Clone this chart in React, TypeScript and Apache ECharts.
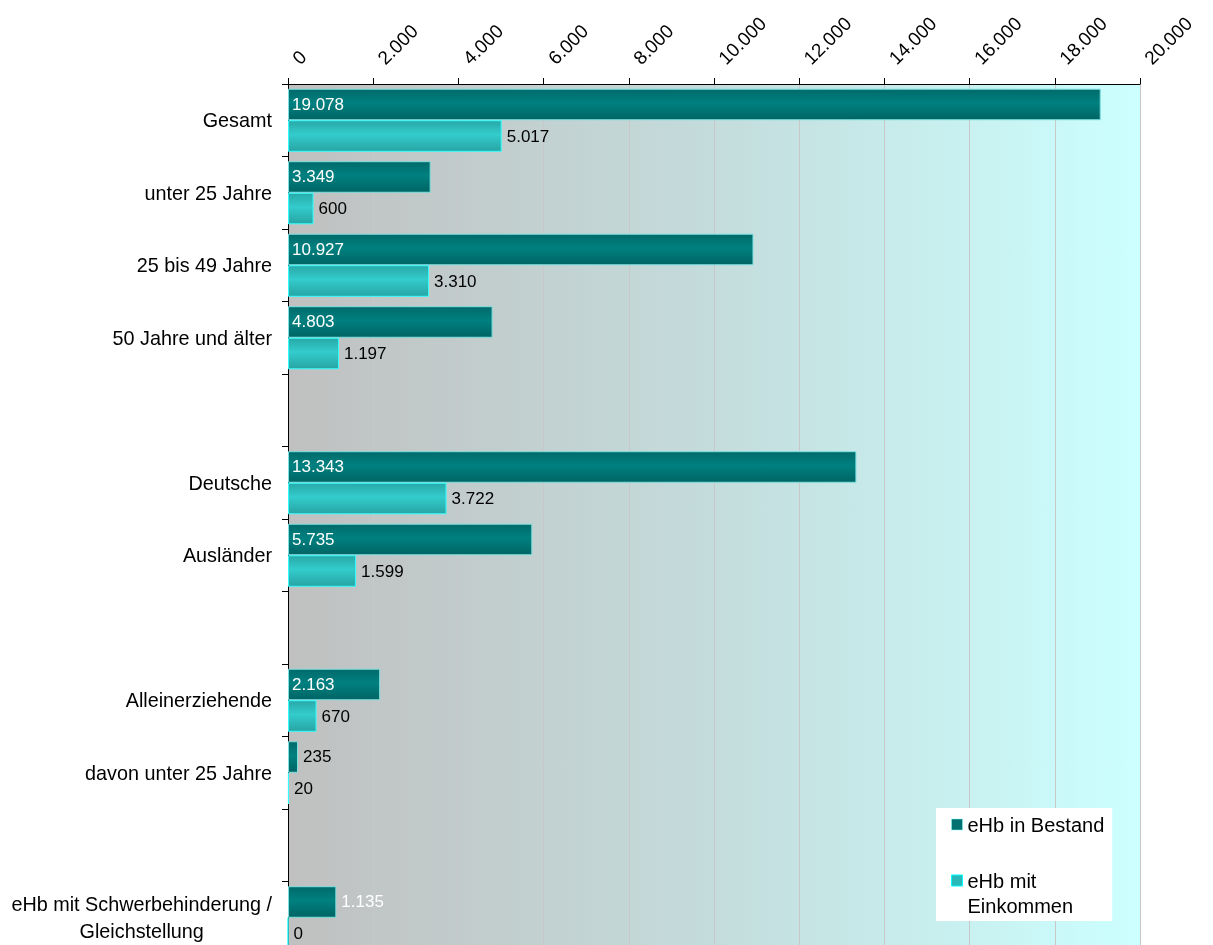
import React, { useEffect, useRef } from "react";
import * as echarts from "echarts";

const categories = [
  "Gesamt",
  "unter 25 Jahre",
  "25 bis 49 Jahre",
  "50 Jahre und älter",
  " ",
  "Deutsche",
  "Ausländer",
  "  ",
  "Alleinerziehende",
  "davon unter 25 Jahre",
  "   ",
  "eHb mit Schwerbehinderung /\nGleichstellung",
];

const bestand: (number | null)[] = [19078, 3349, 10927, 4803, null, 13343, 5735, null, 2163, 235, null, 1135];
const einkommen: (number | null)[] = [5017, 600, 3310, 1197, null, 3722, 1599, null, 670, 20, null, 0];

const xTicks = [0, 2000, 4000, 6000, 8000, 10000, 12000, 14000, 16000, 18000, 20000];

const seriesNames = ["eHb in Bestand", "eHb mit Einkommen"];

const fmt = (v: number) => v.toLocaleString("de-DE");

export default function App() {
  const ref = useRef<HTMLDivElement>(null);
  useEffect(() => {
    if (!ref.current) return;
    const chart = echarts.init(ref.current, undefined, { renderer: "svg" });
    const font = "'Liberation Sans', Arial, sans-serif";

    const darkData = bestand.map((v) => {
      if (v === null) return "-";
      if (v < 1500) {
        return {
          value: v,
          label: {
            position: "right",
            distance: 5,
            color: v === 235 ? "#000000" : "#ffffff",
          },
        };
      }
      return v;
    });

    const darkGrad = new echarts.graphic.LinearGradient(0, 0, 0, 1, [
      { offset: 0, color: "#006a6a" },
      { offset: 0.45, color: "#008080" },
      { offset: 1, color: "#006464" },
    ]);
    const lightGrad = new echarts.graphic.LinearGradient(0, 0, 0, 1, [
      { offset: 0, color: "#29a8a8" },
      { offset: 0.45, color: "#33cccc" },
      { offset: 1, color: "#28a4a4" },
    ]);

    chart.setOption({
      animation: false,
      textStyle: { fontFamily: font },
      legend: {
        orient: "vertical",
        left: 936,
        top: 808,
        backgroundColor: "#ffffff",
        padding: [4, 8, 3, 15],
        itemGap: 6,
        itemWidth: 11,
        itemHeight: 11,
        icon: "rect",
        data: [
          { name: seriesNames[0], itemStyle: { color: "#007070", borderColor: "#80ffff", borderWidth: 0.5 } },
          { name: seriesNames[1], itemStyle: { color: "#2ab8b8", borderColor: "#00ffff", borderWidth: 1 } },
        ],
        formatter: (name: string) =>
          name === seriesNames[1] ? "\neHb mit\nEinkommen" : name,
        textStyle: { fontSize: 20, color: "#000000", fontFamily: font, lineHeight: 25 },
      },
      grid: {
        left: 288,
        top: 84,
        right: 73,
        bottom: 6,
        show: true,
        borderWidth: 0,
        backgroundColor: new echarts.graphic.LinearGradient(0, 0, 1, 0, [
          { offset: 0, color: "#c0c0c0" },
          { offset: 0.5, color: "#c4dcdc" },
          { offset: 1, color: "#ccffff" },
        ]),
      },
      xAxis: {
        type: "value",
        position: "top",
        min: xTicks[0],
        max: xTicks[xTicks.length - 1],
        interval: 2000,
        axisLine: { show: true, lineStyle: { color: "#000000", width: 1 } },
        axisTick: { show: true, length: 6, lineStyle: { color: "#000000" } },
        splitLine: { show: true, lineStyle: { color: "#c8c8c8", width: 1 } },
        axisLabel: {
          rotate: -45,
          fontSize: 19,
          color: "#000000",
          fontFamily: font,
          margin: 15,
          padding: [0, 0, 0, 11],
          formatter: (v: number) => fmt(v),
        },
      },
      yAxis: {
        type: "category",
        inverse: true,
        data: categories,
        axisLine: { show: true, lineStyle: { color: "#000000" } },
        axisTick: { show: true, length: 6, lineStyle: { color: "#000000" } },
        axisLabel: {
          fontSize: 19.8,
          color: "#000000",
          fontFamily: font,
          margin: 16,
          interval: 0,
          formatter: (v: string) =>
            v.indexOf("\n") >= 0
              ? v.split("\n").map((s) => "{c|" + s + "}").join("\n")
              : v,
          rich: {
            c: { align: "center", fontSize: 19.8, color: "#000000", fontFamily: font, lineHeight: 27 },
          },
        },
      },
      series: [
        {
          name: seriesNames[0],
          type: "bar",
          data: darkData,
          barGap: "0%",
          barCategoryGap: "13%",
          itemStyle: { color: darkGrad, borderColor: "#7fe0e0", borderWidth: 1 },
          label: {
            show: true,
            position: "insideLeft",
            distance: 4,
            color: "#ffffff",
            fontSize: 17,
            fontFamily: font,
            formatter: (p: any) => fmt(p.value),
          },
        },
        {
          name: seriesNames[1],
          type: "bar",
          data: einkommen.map((v) => (v === null ? "-" : v)),
          itemStyle: { color: lightGrad, borderColor: "#33ffff", borderWidth: 1 },
          label: {
            show: true,
            position: "right",
            distance: 5,
            color: "#000000",
            fontSize: 17,
            fontFamily: font,
            formatter: (p: any) => fmt(p.value),
          },
        },
      ],
    });
    return () => chart.dispose();
  }, []);
  return (
    <div
      ref={ref}
      style={{ position: "fixed", left: 0, top: 0, width: 1213, height: 960 }}
    />
  );
}
